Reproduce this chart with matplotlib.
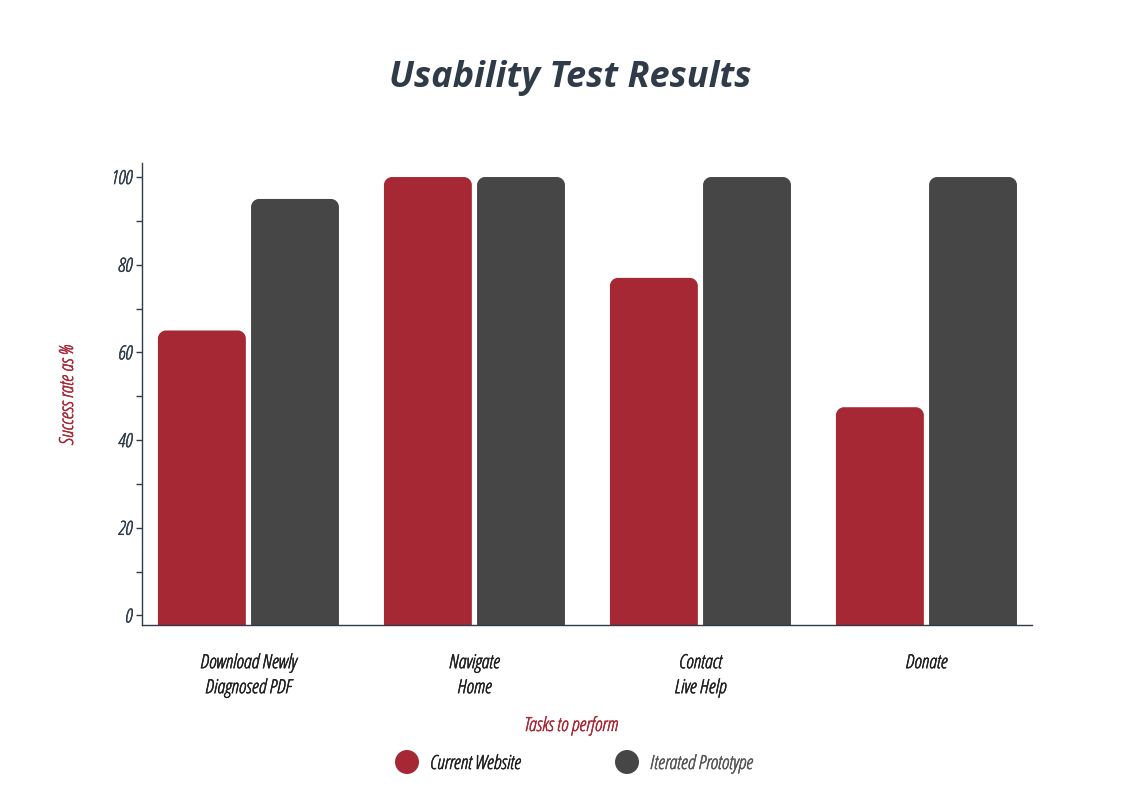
import matplotlib.pyplot as plt
import matplotlib.patheffects as pe
from matplotlib.path import Path
from matplotlib.patches import PathPatch, Ellipse
from matplotlib.ticker import MultipleLocator

tasks = ["Download Newly\nDiagnosed PDF", "Navigate\nHome", "Contact\nLive Help", "Donate"]
current_site = [65, 100, 77, 47.5]
prototype = [95, 100, 100, 100]
series_names = ["Current Website", "Iterated Prototype"]

RED = "#a72835"
GRAY = "#464646"
DARK = "#2f3b48"
FONT = ["Open Sans", "DejaVu Sans"]
NARROW = dict(family=FONT, style="italic", stretch="condensed", weight="normal")
FS = 14


def thick(color):
    # condensed face is light only, so fatten the strokes a little
    return [pe.withStroke(linewidth=0.35, foreground=color)]


def rounded_bar(ax, x, w, y0, h, color, rx, ry):
    # bar with rounded top corners, radii given in data units
    x0, x1, y1 = x - w / 2, x + w / 2, y0 + h
    k = 0.55
    verts = [(x0, y0), (x0, y1 - ry),
             (x0, y1 - ry + k * ry), (x0 + rx - k * rx, y1), (x0 + rx, y1),
             (x1 - rx, y1),
             (x1 - rx + k * rx, y1), (x1, y1 - ry + k * ry), (x1, y1 - ry),
             (x1, y0), (x0, y0)]
    codes = [Path.MOVETO, Path.LINETO,
             Path.CURVE4, Path.CURVE4, Path.CURVE4,
             Path.LINETO,
             Path.CURVE4, Path.CURVE4, Path.CURVE4,
             Path.LINETO, Path.CLOSEPOLY]
    ax.add_patch(PathPatch(Path(verts, codes), facecolor=color, edgecolor="none", zorder=2))


fig = plt.figure(figsize=(11.4, 7.99), dpi=100)
ax = fig.add_axes([142 / 1140, 1 - 625 / 799, 890 / 1140, 462 / 799])

xmin, xmax = -0.471, 3.467
ymin, ymax = -2.17, 103.2
ax.set_xlim(xmin, xmax)
ax.set_ylim(ymin, ymax)

px_x = 890 / (xmax - xmin)
px_y = 462 / (ymax - ymin)
rx, ry = 8 / px_x, 8 / px_y
width = 0.389
offset = 0.206

for i in range(len(tasks)):
    rounded_bar(ax, i - offset, width, ymin, current_site[i] - ymin, RED, rx, ry)
    rounded_bar(ax, i + offset, width, ymin, prototype[i] - ymin, GRAY, rx, ry)

for s in ["top", "right"]:
    ax.spines[s].set_visible(False)
for s in ["left", "bottom"]:
    ax.spines[s].set_color(DARK)
    ax.spines[s].set_linewidth(1)

ax.yaxis.set_major_locator(MultipleLocator(20))
ax.yaxis.set_minor_locator(MultipleLocator(10))
ax.tick_params(axis="y", which="both", length=4, width=1, color=DARK, pad=3)
ax.tick_params(axis="x", length=0, pad=21)
ax.set_xticks(range(len(tasks)))
ax.set_xticklabels(tasks, fontsize=FS, color="#1e1e1e", linespacing=1.5, **NARROW)
for lab in ax.get_xticklabels():
    lab.set_path_effects(thick("#1e1e1e"))
for lab in ax.get_yticklabels():
    lab.set_fontsize(FS)
    lab.set_style("italic")
    lab.set_family(FONT)
    lab.set_stretch("condensed")
    lab.set_color(DARK)
    lab.set_path_effects(thick(DARK))

fig.text(68 / 1140, 1 - 395 / 799, "Success rate as %", rotation=90, ha="center", va="center",
         fontsize=FS, color=RED, path_effects=thick(RED), **NARROW)
fig.text(571 / 1140, 1 - 726 / 799, "Tasks to perform", ha="center", va="center",
         fontsize=FS, color=RED, path_effects=thick(RED), **NARROW)

fig.text(570 / 1140, 1 - 78 / 799, "Usability Test Results", ha="center", va="center",
         fontsize=26, style="italic", weight="bold", stretch="normal",
         family=FONT, color=DARK)

# legend
for cx, col, name, tcol in [(407, RED, series_names[0], "#1e1e1e"), (627, GRAY, series_names[1], "#555555")]:
    fig.patches.append(Ellipse((cx / 1140, 1 - 762 / 799), width=24 / 1140, height=24 / 799,
                               transform=fig.transFigure, facecolor=col, edgecolor="none"))
    fig.text((cx + 23) / 1140, 1 - 764 / 799, name, ha="left", va="center",
             fontsize=FS, color=tcol, path_effects=thick(tcol), **NARROW)

fig.savefig("out.png", dpi=100)
